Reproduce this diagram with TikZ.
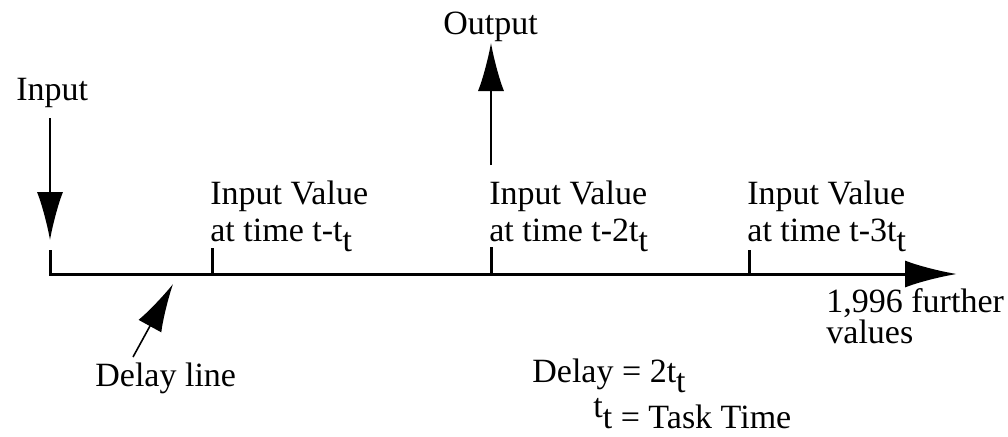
\documentclass[tikz,border=0pt]{standalone}
\usepackage{fontspec}
\setmainfont{Liberation Serif}
\usetikzlibrary{arrows.meta}
\newcommand\lowt{\raisebox{-0.3em}{t}}
\begin{document}
\begin{tikzpicture}[x=0.5pt,y=-0.5pt,
  lbl/.style={inner sep=0pt,anchor=base west,font=\fontsize{17}{19}\selectfont},
  axis/.style={line width=1.5pt},
  thin/.style={line width=0.8pt,-{Latex[length=24pt,width=13pt]}},
  bigarrow/.style={line width=1.5pt,-{Latex[length=26pt,width=13.5pt]}}]
\useasboundingbox (0,0) rectangle (1008,436);
% axis points
\coordinate (L0) at (50,274);
\coordinate (L0t) at (50,250);
\coordinate (T1) at (212,274);
\coordinate (T1t) at (212,248);
\coordinate (T2) at (491,274);
\coordinate (T2t) at (491,247);
\coordinate (T3) at (749,274);
\coordinate (T3t) at (749,250);
\coordinate (E) at (957,274);
% axis
\draw[axis] (L0t) -- (L0) -- (T1) -- (T2) -- (T3);
\draw[bigarrow] (T3) -- (E);
\draw[axis] (T1) -- (T1t);
\draw[axis] (T2) -- (T2t);
\draw[axis] (T3) -- (T3t);
% labels
\node[lbl] (in) at (16,100) {Input};
\node[lbl] (out) at (443,34) {Output};
\node[lbl] (v1a) at (210,204) {Input Value};
\node[lbl] (v1b) at (210,241) {at time t-t\lowt};
\node[lbl] (v2a) at (489,204) {Input Value};
\node[lbl] (v2b) at (489,241) {at time t-2t\lowt};
\node[lbl] (v3a) at (747,204) {Input Value};
\node[lbl] (v3b) at (747,241) {at time t-3t\lowt};
\node[lbl] (fa) at (826,312) {1,996 further};
\node[lbl] (fb) at (826,343) {values};
\node[lbl] (dl) at (95,386) {Delay line};
\node[lbl] (dy) at (532,382) {Delay = 2t\lowt};
\node[lbl] (tt) at (593,428) {\raisebox{0.3em}{t}t = Task Time};
% arrows
\coordinate (inS) at (50,118);
\coordinate (inE) at (50,240);
\draw[thin] (inS) -- (inE);
\coordinate (outS) at (491,165);
\coordinate (outE) at (491,43);
\draw[thin] (outS) -- (outE);
\coordinate (dlS) at (133,357);
\coordinate (dlE) at (173,284);
\draw[thin] (dlS) -- (dlE);
\end{tikzpicture}
\end{document}
